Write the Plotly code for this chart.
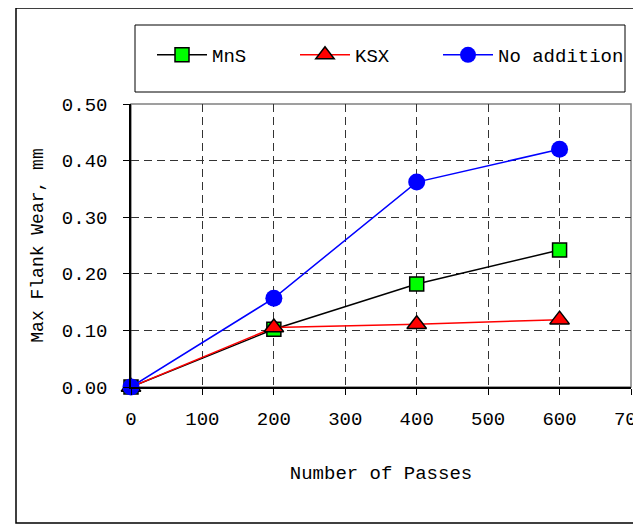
import plotly.graph_objects as go

passes = [0, 200, 400, 600]
mns = [0.0, 0.102, 0.182, 0.242]
ksx = [0.0, 0.105, 0.111, 0.119]
no_addition = [0.0, 0.157, 0.362, 0.420]
x_ticks = [0, 100, 200, 300, 400, 500, 600, 700]
y_ticks = [0.0, 0.1, 0.2, 0.3, 0.4, 0.5]

FONT = "Liberation Mono"
OFF = 8  # page body margin
W, H = 633, 518
L, R, T, B = 123, 10, 96, 139
pw, ph = W - L - R, H - T - B

def px_x(p):
    return (p - OFF - L) / pw

def px_y(p):
    return (H - B - (p - OFF)) / ph

fig = go.Figure()
fig.add_trace(go.Scatter(x=passes, y=mns, name="MnS", mode="lines+markers",
                         cliponaxis=False, legend="legend",
                         line=dict(color="black", width=1.5),
                         marker=dict(symbol="square", size=14, color="#00ff00",
                                     line=dict(color="black", width=1.5))))
fig.add_trace(go.Scatter(x=passes, y=ksx, name="KSX", mode="lines+markers",
                         cliponaxis=False, legend="legend2",
                         line=dict(color="red", width=1.5),
                         marker=dict(symbol="triangle-up", size=17, color="red",
                                     line=dict(color="black", width=1.5))))
fig.add_trace(go.Scatter(x=passes, y=no_addition, name="No addition", mode="lines+markers",
                         cliponaxis=False, legend="legend3",
                         line=dict(color="blue", width=1.5),
                         marker=dict(symbol="circle", size=17, color="blue",
                                     line=dict(color="blue", width=0))))

# outer frame and legend box
fig.add_shape(type="rect", xref="paper", yref="paper",
              x0=px_x(16), x1=px_x(660), y0=px_y(523), y1=px_y(8),
              line=dict(color="black", width=1.5), layer="below")
fig.add_shape(type="rect", xref="paper", yref="paper",
              x0=px_x(135), x1=px_x(625), y0=px_y(92), y1=px_y(25),
              line=dict(color="black", width=1), layer="below")
# plot area top/right border
fig.add_shape(type="rect", xref="paper", yref="paper",
              x0=0, x1=1, y0=0, y1=1,
              line=dict(color="#808080", width=1.5), layer="below")

def leg(xpix):
    return dict(orientation="h", x=px_x(xpix), y=px_y(55), xanchor="left", yanchor="middle",
                bgcolor="rgba(0,0,0,0)", borderwidth=0,
                font=dict(family=FONT, size=19, color="black"), itemwidth=50)

fig.update_layout(
    width=W, height=H,
    margin=dict(l=L, r=R, t=T, b=B, autoexpand=False),
    paper_bgcolor="white", plot_bgcolor="white",
    font=dict(family=FONT, size=19, color="black"),
    showlegend=True,
    legend=leg(152), legend2=leg(295), legend3=leg(438),
)
fig.update_xaxes(range=[0, 700], tickvals=x_ticks, ticks="outside", ticklen=6,
                 tickcolor="black", tickwidth=1.2, ticklabelstandoff=7,
                 ticklabeloverflow="allow", automargin=False,
                 showline=True, linecolor="black", linewidth=1.5,
                 showgrid=True, gridcolor="#333333", gridwidth=1, griddash="8px,5px",
                 zeroline=False, tickfont=dict(family=FONT, size=19),
                 title=dict(text="Number of Passes", font=dict(family=FONT, size=19), standoff=36))
fig.update_yaxes(range=[0, 0.5], tickvals=y_ticks, tickformat=".2f", ticks="outside", ticklen=6,
                 tickcolor="black", tickwidth=1.2, ticklabelstandoff=12, automargin=False,
                 showline=True, linecolor="black", linewidth=1.5,
                 showgrid=True, gridcolor="#333333", gridwidth=1, griddash="8px,5px",
                 zeroline=False, tickfont=dict(family=FONT, size=19),
                 title=dict(text="Max Flank Wear, mm", font=dict(family=FONT, size=18), standoff=14))

fig.write_html("out.html")
